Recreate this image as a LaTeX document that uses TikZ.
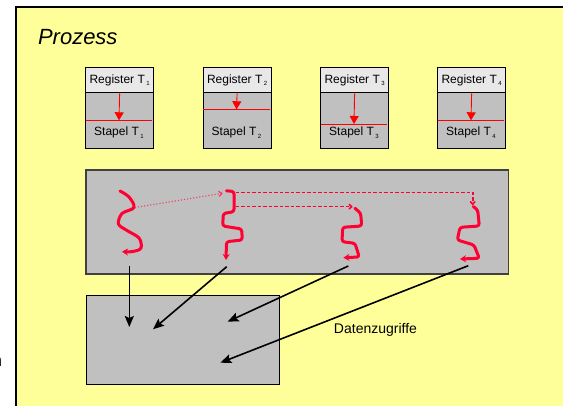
\documentclass[tikz,border=0pt]{standalone}
\usepackage{fontspec}
\setmainfont{Liberation Sans}
\usepackage{tikz}
\usetikzlibrary{arrows.meta}
\definecolor{panelgelb}{RGB}{255,255,153}
\definecolor{grau}{RGB}{192,192,192}
\definecolor{hellgrau}{RGB}{232,232,232}
\definecolor{fadenrot}{RGB}{255,0,51}
\definecolor{randgrau}{RGB}{64,64,64}
\newcommand{\tief}[1]{\hspace{1.5pt}\raisebox{-2.5pt}{\fontsize{6}{6}\selectfont #1}}

\begin{document}
\begin{tikzpicture}[x=1pt,y=-1pt,
	kasten/.style={draw=black, line width=1.2pt, minimum width=68pt, inner sep=0pt, anchor=north west},
	klein/.style={font=\fontsize{12}{14}\selectfont},
	faden/.style={draw=fadenrot, line width=3pt, line cap=round, line join=round, -{Stealth[length=6pt,width=7pt]}},
	strich/.style={draw=fadenrot, line width=1.6pt, dash pattern=on 3.5pt off 2pt, -{To[length=4pt,width=6pt]}},
	zugriff/.style={draw=black, line width=1.6pt, -{Stealth[length=11pt,width=9pt,inset=2pt]}}]
		\useasboundingbox (0,0) rectangle (563,406);
		\draw[line width=2.2pt, fill=panelgelb] (16,6.7) rectangle (620,460); % Prozess
		\node[anchor=base west, font=\fontsize{22}{26}\selectfont\itshape] (titel) at (34.5,45) {Prozess};
		\node[anchor=base east, font=\fontsize{17}{20}\selectfont] (rand) at (5.5,366.7) {n};

		% Register und Stapel
		\foreach \i/\x/\ry in {1/85/120.3, 2/202.5/109.3, 3/320/124, 4/437/120.3}{
			\node[kasten, fill=hellgrau, minimum height=25pt, klein] (reg\i) at (\x,67.3) {Register T\tief{\i}};
			\node[kasten, fill=grau, minimum height=56pt] (stk\i) at (\x,92.3) {};
			\draw[red, line width=0.9pt] ({\x+0.6},\ry) -- ({\x+67.4},\ry);
			\draw[red, line width=0.9pt, -{Triangle[length=8pt,width=9pt]}] (reg\i.south) -- ({\x+34},\ry);
			\node[anchor=base, klein] (st\i) at ({\x+34},136) {Stapel T\tief{\i}};
		}

		% Threads
		\node[draw=randgrau, line width=1.8pt, fill=grau, anchor=north west, minimum width=422.5pt, minimum height=104pt, inner sep=0pt] (faeden) at (85,169.3) {};
		\draw[faden] plot[smooth, tension=0.55] coordinates {(120,191) (129,197) (134,207.5) (122,213.5) (118.5,224) (127,230.5) (139,238) (141,248) (133,251.5) (122,251.7)};
		\draw[faden, rounded corners=2.5pt] (226.5,190.8) -- (234,191.5) -- (234,211.7) -- (223.3,213.5) -- (222.7,226) -- (241.7,229) -- (242.3,240) -- (226.5,241.7) -- (226,260);
		\draw[faden, rounded corners=2.5pt] (355,208.3) -- (360.7,213.3) -- (361.7,226) -- (342.7,227.3) -- (342,241.7) -- (355,243.3) -- (359.3,257) -- (343.3,257.7);
		\draw[faden, rounded corners=2.5pt] (473.3,206.5) -- (477.7,210) -- (479.3,226) -- (460,227.3) -- (457.3,240) -- (474,245) -- (479.3,258.3) -- (460,259);
		\coordinate (t1) at (135,207.5);
		\coordinate (t2) at (222.5,193.3);
		\coordinate (t3) at (352.5,206.7);
		\coordinate (t4) at (472.7,205);
		\draw[fadenrot!80, line width=1.1pt, dotted, -{To[length=4pt,width=6pt]}] (t1) -- (t2);
		\draw[strich] (235.5,192.7) -| (t4);
		\draw[strich] (235.5,206.7) -- (t3);

		% Daten
		\node[draw=black, line width=1pt, fill=grau, anchor=north west, minimum width=193.7pt, minimum height=88.7pt, inner sep=0pt] (daten) at (85.7,295.3) {};
		\coordinate (s1) at (129.3,266.5);
		\coordinate (s2) at (226.7,266.7);
		\coordinate (s3) at (348.3,266);
		\coordinate (s4) at (468.3,265.7);
		\draw[zugriff] (s1) -- (129.3,327);
		\draw[zugriff] (s2) -- (153,329.3);
		\draw[zugriff] (s3) -- (227.6,321.7);
		\draw[zugriff] (s4) -- (220.4,362.7);
		\node[font=\fontsize{14}{16}\selectfont] (zugriffe) at (375.5,330) {Datenzugriffe};

	\end{tikzpicture}
\end{document}
